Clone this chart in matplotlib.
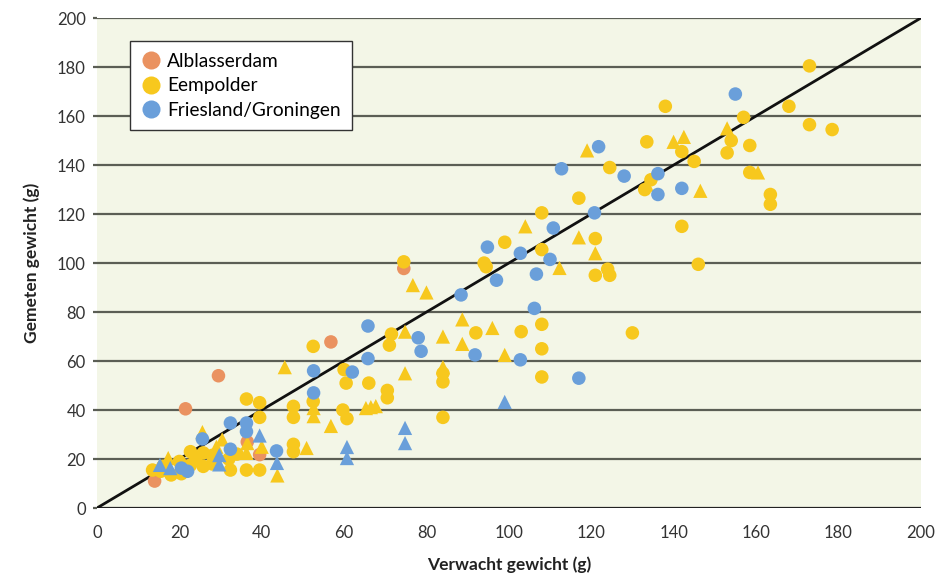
import numpy as np
import matplotlib
matplotlib.use("Agg")
from matplotlib import pyplot as plt
from matplotlib.lines import Line2D

plt.rcParams['font.family'] = ['Lato', 'DejaVu Sans']

# expected weight (x) vs measured weight (y), per region and marker shape
alb_circ_x = [14, 21.5, 29.5, 36.5, 39.5, 56.8, 74.5]
alb_circ_y = [11, 40.5, 54, 27, 21.8, 67.8, 97.8]

eem_circ_x = [173, 168, 157, 173, 178.5, 154, 158.5, 153, 158.5, 163.5, 163.5, 146,
              138, 133.5, 142, 145, 124.5, 134.5, 133, 117, 108, 142, 121, 108,
              121, 124, 124.5, 108, 130, 108, 108, 99, 94, 94.5, 74.5, 103, 92,
              84, 84, 70.5, 70.5, 84, 71.5, 71, 52.5, 60, 60.5, 66, 52.5,
              36.3, 39.5, 39.5, 47.7, 47.7, 59.7, 60.7, 47.7, 47.7,
              32.4, 36.3, 39.5, 22.7, 25.8, 28, 22.7, 25.8, 28, 15.5, 18, 20.5,
              16, 13.5, 20, 24, 32, 34]
eem_circ_y = [180.5, 164, 159.5, 156.5, 154.5, 150, 148, 145, 137, 128, 124, 99.5,
              164, 149.5, 145.5, 141.5, 139, 134, 130, 126.5, 120.5, 115, 110, 105.5,
              95, 97.5, 95, 75, 71.5, 65, 53.5, 108.5, 100, 98.5, 100.5, 72, 71.5,
              55, 51.5, 48, 45, 37, 71, 66.5, 66, 56.5, 51, 51, 43.5,
              44.5, 43, 37, 41.5, 37, 40, 36.5, 26, 23,
              15.5, 15.5, 15.5, 23, 22.5, 21.5, 17.5, 17, 18, 15, 13.5, 14,
              17, 15.5, 19, 20, 20, 22]

eem_tri_x = [153, 160.5, 146.5, 119, 140, 142.5, 133.5, 104, 117, 121, 112.3,
             76.7, 80, 88.7, 96, 84, 74.8, 88.7, 99, 74.8, 84, 45.6, 52.6, 52.6,
             56.8, 65.3, 66.5, 67.7, 50.9, 43.8, 25.6, 30.4, 36.5, 17.3, 36.3, 29, 40]
eem_tri_y = [155, 137, 129.5, 146, 149.5, 151.5, 132, 115, 110.5, 104, 98,
             91, 88, 77, 73.5, 70, 72, 67, 62.5, 55, 57.5, 57.5, 40.8, 37.5,
             33.5, 40.8, 41.2, 41.6, 24.5, 13.3, 31, 28, 26.5, 20.4, 22.5, 25, 25]

fri_circ_x = [155, 121.8, 112.8, 128, 136.2, 136.2, 142, 120.8, 110.8, 94.8, 102.8,
              110, 106.7, 97, 88.4, 106.2, 65.8, 78, 78.7, 91.8, 102.8, 65.8, 52.6,
              62, 52.6, 117, 32.4, 36.3, 36.3, 25.6, 32.4, 43.6, 20.5, 22]
fri_circ_y = [169, 147.5, 138.5, 135.5, 136.5, 128, 130.5, 120.5, 114.3, 106.5, 104,
              101.5, 95.5, 93, 87, 81.5, 74.3, 69.5, 64, 62.5, 60.5, 61, 56,
              55.5, 47, 53, 34.7, 34.7, 31.2, 28.2, 24, 23.3, 16.3, 15]

fri_tri_x = [99, 74.8, 74.8, 60.7, 60.7, 43.7, 39.5, 29.7, 29.7, 15.3, 17.8]
fri_tri_y = [43.3, 32.7, 26.5, 24.9, 20.4, 18.4, 29.6, 21.6, 17.8, 17.6, 16.3]

groups = ['Alblasserdam', 'Eempolder', 'Friesland/Groningen']
colors = ['#EA9260', '#F7C81E', '#6A9FDA']

fig = plt.figure(figsize=(9.35, 5.75), dpi=100)
ax = fig.add_axes([0.1037, 0.1165, 0.881, 0.852])
ax.set_facecolor('#F3F6E7')

for yv in range(20, 201, 20):
    ax.axhline(yv, color='#5B5E55', lw=1.6, zorder=1)
ax.axhline(0, color='#222222', lw=1.6, zorder=1)

ax.plot([0, 200], [0, 200], color='#111111', lw=2.0, zorder=2)

ms = 95
ax.scatter(alb_circ_x, alb_circ_y, s=ms, marker='o', color=colors[0], edgecolors='none', zorder=3)
ax.scatter(eem_circ_x, eem_circ_y, s=ms, marker='o', color=colors[1], edgecolors='none', zorder=3)
ax.scatter(eem_tri_x, eem_tri_y, s=ms + 10, marker='^', color=colors[1], edgecolors='none', zorder=3)
ax.scatter(fri_circ_x, fri_circ_y, s=ms, marker='o', color=colors[2], edgecolors='none', zorder=4)
ax.scatter(fri_tri_x, fri_tri_y, s=ms + 10, marker='^', color=colors[2], edgecolors='none', zorder=4)

ax.set_xlim(0, 200)
ax.set_ylim(0, 200)
ax.set_xticks(np.arange(0, 201, 20))
ax.set_yticks(np.arange(0, 201, 20))
for s in ax.spines.values():
    s.set_visible(False)
ax.tick_params(axis='x', length=0, pad=12, labelsize=12, labelcolor='#333333')
ax.tick_params(axis='y', length=3, width=1.6, color='#5B5E55', pad=5, labelsize=12, labelcolor='#333333')

ax.set_xlabel('Verwacht gewicht (g)', fontsize=12.5, fontweight='bold', color='#222222', labelpad=11)
ax.set_ylabel('Gemeten gewicht (g)', fontsize=12.5, fontweight='bold', color='#222222', labelpad=12)

handles = [Line2D([], [], marker='o', linestyle='none', markersize=13,
                  markerfacecolor=c, markeredgecolor='none') for c in colors]
leg = ax.legend(handles, groups, loc='upper left', bbox_to_anchor=(0.04, 0.953),
                borderaxespad=0, fontsize=13.8, frameon=True, fancybox=False,
                handletextpad=0.35, handlelength=1.0, labelspacing=0.4,
                borderpad=0.6)
leg.get_frame().set_edgecolor('#333333')
leg.get_frame().set_linewidth(1.0)
leg.get_frame().set_facecolor('white')
leg.get_frame().set_alpha(1)
leg.set_zorder(5)

fig.savefig('out.png', dpi=100)
